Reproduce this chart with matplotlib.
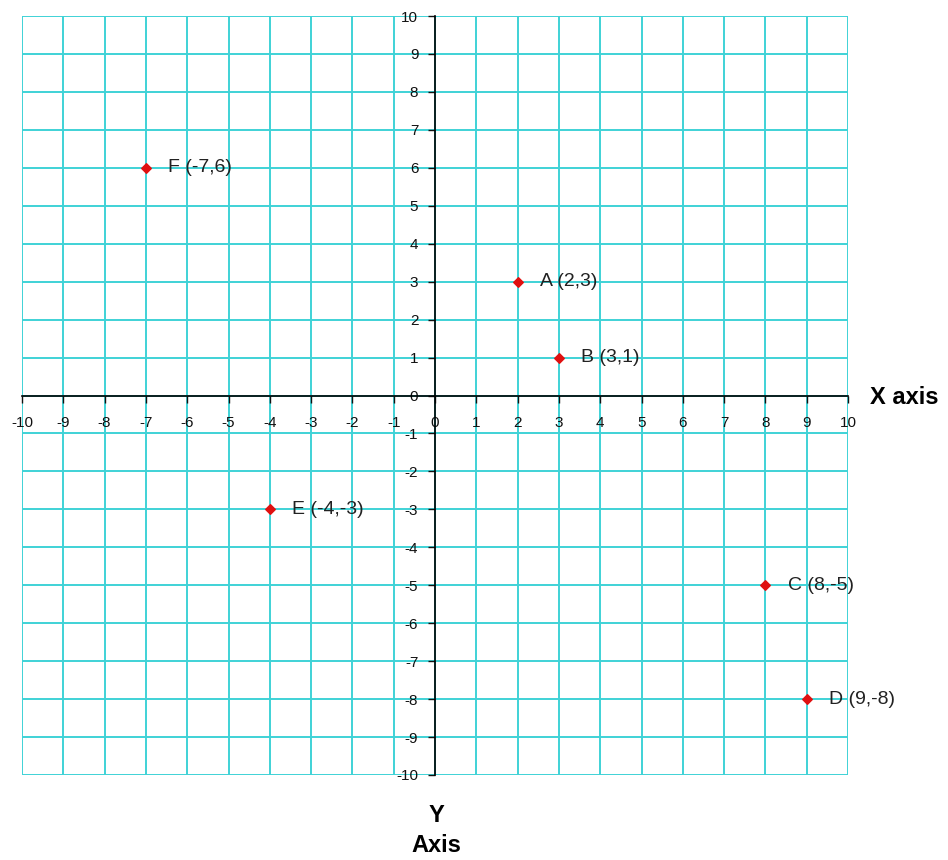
import numpy as np
import matplotlib.pyplot as plt

plt.rcParams['font.family'] = ['Liberation Sans', 'DejaVu Sans']

names = ['A', 'B', 'C', 'D', 'E', 'F']
xs = [2, 3, 8, 9, -4, -7]
ys = [3, 1, -5, -8, -3, 6]

ticks = np.arange(-10, 11)
grid_color = '#3fd2d6'

fig = plt.figure(figsize=(9.48, 8.6), dpi=100)
ax = fig.add_axes([22 / 948, 1 - 775 / 860, 826 / 948, 759 / 860])
ax.set_xlim(-10, 10)
ax.set_ylim(-10, 10)

# grid of unit squares
for t in ticks:
    ax.axvline(t, color=grid_color, lw=1.4, zorder=1)
    ax.axhline(t, color=grid_color, lw=1.4, zorder=1)

# axes through the origin
ax.spines['left'].set_position(('data', 0))
ax.spines['bottom'].set_position(('data', 0))
ax.spines['right'].set_visible(False)
ax.spines['top'].set_visible(False)
for s in ('left', 'bottom'):
    ax.spines[s].set_color('black')
    ax.spines[s].set_linewidth(1.2)
    ax.spines[s].set_zorder(3)

ax.set_xticks(ticks)
ax.set_yticks(ticks)
ax.set_xticklabels([str(t) for t in ticks])
ax.set_yticklabels([str(t) for t in ticks])
ax.tick_params(axis='x', direction='out', length=5, width=1, pad=10,
               labelsize=11, colors='#111111')
ax.tick_params(axis='y', direction='out', length=5, width=1, pad=7,
               labelsize=11, colors='#111111')

ax.scatter(xs, ys, marker='D', s=24, color='#e01010', zorder=5)
for n, x, y in zip(names, xs, ys):
    ax.annotate(f'{n} ({x},{y})', (x, y), xytext=(16, 0),
                textcoords='offset points', va='center', ha='left',
                fontsize=14, color='#222222', zorder=6)

fig.text(870 / 948, 1 - 398 / 860, 'X axis', fontsize=17, fontweight='bold',
         ha='left', va='center')
fig.text(436 / 948, 1 - 816 / 860, 'Y', fontsize=17, fontweight='bold',
         ha='center', va='center')
fig.text(436 / 948, 1 - 846 / 860, 'Axis', fontsize=17, fontweight='bold',
         ha='center', va='center')

fig.savefig('out.png', dpi=100, facecolor='white')
